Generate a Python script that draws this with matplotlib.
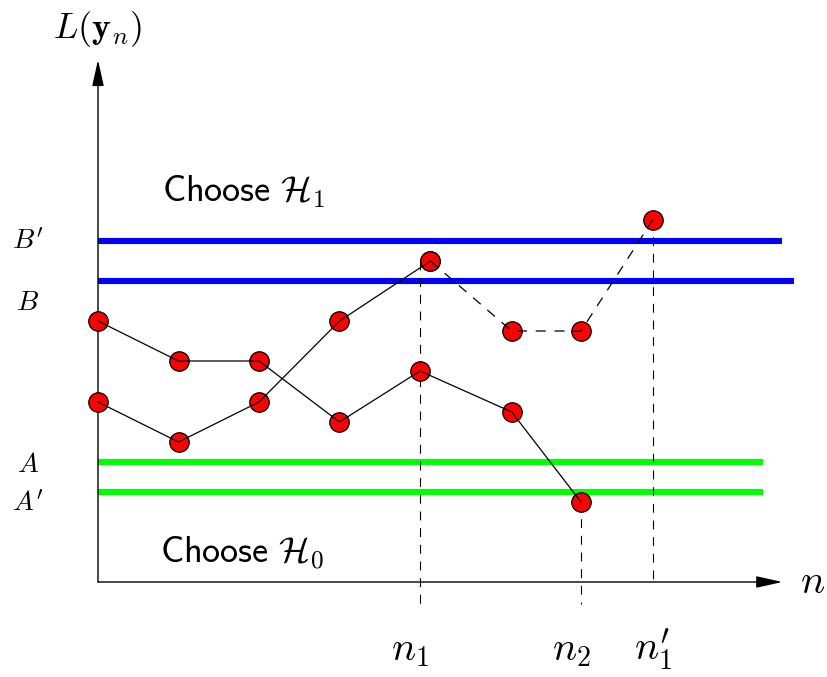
import matplotlib.pyplot as plt

plt.rcParams["mathtext.fontset"] = "cm"

# two sample paths of the test statistic L(y_n) against n
path_a_n = [0, 1, 2, 3, 4, 5.14, 6.0]
path_a_L = [6.525, 5.525, 5.525, 4.0, 5.275, 4.25, 2.0]

path_b_n = [0, 1, 2, 3, 4.13]
path_b_L = [4.5, 3.5, 4.5, 6.525, 8.025]

# continuation of the second path once the tighter threshold B' is used
path_b_ext_n = [4.13, 5.14, 6.0, 6.89]
path_b_ext_L = [8.025, 6.275, 6.275, 9.05]

# thresholds: label, level, right end, colour
thresholds = [
    ("$B'$", 8.525, 8.5, "#0000ff"),
    ("$B$", 7.525, 8.64, "#0000ff"),
    ("$A$", 3.0, 8.26, "#00ff00"),
    ("$A'$", 2.25, 8.26, "#00ff00"),
]
threshold_label_base = {"$B'$": 8.3, "$B$": 6.8, "$A$": 2.75, "$A'$": 1.75}

# stopping times marked on the n axis: label, n, top of guide, bottom of guide
stops = [
    ("$n_1$", 4.0, 8.025, -0.55),
    ("$n_2$", 6.0, 2.0, -0.55),
    ("$n_1'$", 6.89, 9.05, 0.0),
]
stop_label_shift = {"$n_1$": -0.13, "$n_2$": -0.12, "$n_1'$": 0.0}

fig = plt.figure(figsize=(8.27, 6.77), dpi=100)
ax = fig.add_axes([0, 0, 1, 1])
ax.set_xlim(-98 / 80.5, (827 - 98) / 80.5)
ax.set_ylim(-(677 - 582) / 40, 582 / 40)
ax.axis("off")

# axes with arrow heads
arrow = dict(arrowstyle="-|>,head_length=1.6,head_width=0.36", lw=1.0,
             color="black", shrinkA=0, shrinkB=0)
ax.annotate("", xy=(0, 13.05), xytext=(0, 0), arrowprops=arrow, zorder=2)
ax.annotate("", xy=(8.5, 0), xytext=(0, 0), arrowprops=arrow, zorder=2)
ax.text(0, 13.6, r"$L(\mathbf{y}_n)$", fontsize=26, ha="center", va="baseline")
ax.text(8.88, -0.27, "$n$", fontsize=29, ha="center", va="baseline")

for label, level, end, color in thresholds:
    ax.plot([0, end], [level, level], color=color, lw=4.4, solid_capstyle="butt", zorder=1)
    ax.text(-0.87, threshold_label_base[label], label, fontsize=20, ha="center", va="baseline")

for label, n, top, bottom in stops:
    ax.plot([n, n], [top, bottom], color="black", lw=0.8, dashes=(8, 7), zorder=1)
    ax.text(n + stop_label_shift[label], -1.95, label, fontsize=29, ha="center", va="baseline")

# markers below, connecting lines on top
for ns, Ls in [(path_a_n, path_a_L), (path_b_n, path_b_L), (path_b_ext_n, path_b_ext_L)]:
    ax.plot(ns, Ls, ls="none", marker="o", ms=14, mfc="#ff0000", mec="black", mew=0.9, zorder=3)
ax.plot(path_a_n, path_a_L, color="black", lw=0.9, zorder=4)
ax.plot(path_b_n, path_b_L, color="black", lw=0.9, zorder=4)
ax.plot(path_b_ext_n, path_b_ext_L, color="black", lw=0.9, dashes=(8, 7), zorder=4)

ax.text(0.79, 9.5, r"$\mathsf{Choose}\ \mathcal{H}_1$", fontsize=26, ha="left", va="baseline")
ax.text(0.77, 0.475, r"$\mathsf{Choose}\ \mathcal{H}_0$", fontsize=26, ha="left", va="baseline")

fig.savefig("out.png", dpi=100)
